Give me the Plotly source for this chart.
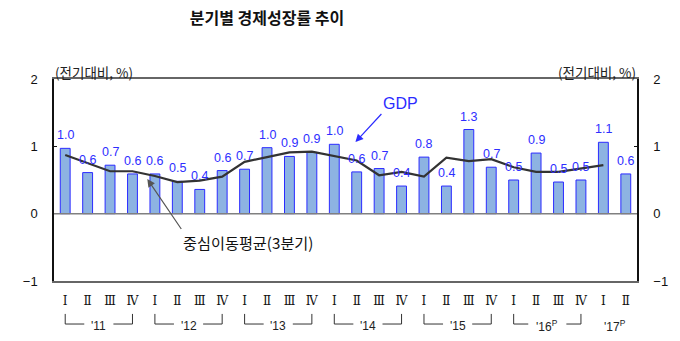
import plotly.graph_objects as go

# ---- data ----
categories = ["11Q1", "11Q2", "11Q3", "11Q4", "12Q1", "12Q2", "12Q3", "12Q4",
              "13Q1", "13Q2", "13Q3", "13Q4", "14Q1", "14Q2", "14Q3", "14Q4",
              "15Q1", "15Q2", "15Q3", "15Q4", "16Q1", "16Q2", "16Q3", "16Q4",
              "17Q1", "17Q2"]
quarter_labels = ["Ⅰ", "Ⅱ", "Ⅲ", "Ⅳ"] * 6 + ["Ⅰ", "Ⅱ"]
gdp = [0.97, 0.61, 0.72, 0.59, 0.59, 0.48, 0.36, 0.64, 0.66, 0.98, 0.85, 0.91, 1.03,
       0.62, 0.67, 0.41, 0.84, 0.41, 1.25, 0.69, 0.50, 0.90, 0.47, 0.50, 1.06, 0.59]
gdp_text = ["1.0", "0.6", "0.7", "0.6", "0.6", "0.5", "0.4", "0.6", "0.7", "1.0", "0.9",
            "0.9", "1.0", "0.6", "0.7", "0.4", "0.8", "0.4", "1.3", "0.7", "0.5", "0.9",
            "0.5", "0.5", "1.1", "0.6"]
moving_avg = [0.87, 0.75, 0.63, 0.63, 0.56, 0.47, 0.49, 0.55, 0.77, 0.84, 0.91, 0.92, 0.85,
              0.79, 0.57, 0.62, 0.55, 0.83, 0.78, 0.81, 0.69, 0.62, 0.62, 0.67, 0.72]
# (label, first quarter index, last quarter index, bracket?)
year_groups = [("'11", 0, 3, True), ("'12", 4, 7, True), ("'13", 8, 11, True),
               ("'14", 12, 15, True), ("'15", 16, 19, True),
               ("'16<sup>P</sup>", 20, 23, True), ("'17<sup>P</sup>", 24, 25, False)]

BAR_FILL = "#8DB3E2"
BAR_LINE = "#2B2BFF"
LABEL_BLUE = "#2E2EFF"
KFONT = "Noto Sans CJK KR"
AFONT = "Liberation Sans, Arial"

fig = go.Figure()
fig.add_trace(go.Bar(
    x=categories, y=gdp, width=0.44,
    marker=dict(color=BAR_FILL, line=dict(color=BAR_LINE, width=1)),
    showlegend=False, hoverinfo="skip"))
fig.add_trace(go.Scatter(
    x=categories[:len(moving_avg)], y=moving_avg, mode="lines", yaxis="y2",
    line=dict(color="#333333", width=2.2), showlegend=False, hoverinfo="skip"))

annotations = []
for c, v, t in zip(categories, gdp, gdp_text):
    annotations.append(dict(x=c, y=v, text=t, showarrow=False, yshift=13,
                            xanchor="center", yanchor="middle",
                            font=dict(family=AFONT, size=12.5, color=LABEL_BLUE)))

shapes = []
for label, i0, i1, bracket in year_groups:
    center = (i0 + i1) / 2
    annotations.append(dict(x=center, y=-0.225, xref="x", yref="paper", text=label,
                            showarrow=False, xanchor="center", yanchor="middle",
                            font=dict(family=AFONT, size=12, color="#222222")))
    if bracket:
        gap = 0.85 if "sup" in label else 0.65
        y_top, y_bot = -0.163, -0.213
        line = dict(color="#333333", width=1)
        shapes.append(dict(type="path", xref="x", yref="paper", line=line,
                           path=f"M {i0},{y_top} L {i0},{y_bot} L {center - gap},{y_bot}"))
        shapes.append(dict(type="path", xref="x", yref="paper", line=line,
                           path=f"M {center + gap},{y_bot} L {i1},{y_bot} L {i1},{y_top}"))

# axis unit labels
annotations.append(dict(x=-0.002, y=1.035, xref="paper", yref="paper", text="(전기대비, %)",
                        showarrow=False, xanchor="left", yanchor="middle",
                        font=dict(family=KFONT, size=13.5, color="#222222")))
annotations.append(dict(x=1.002, y=1.035, xref="paper", yref="paper", text="(전기대비, %)",
                        showarrow=False, xanchor="right", yanchor="middle",
                        font=dict(family=KFONT, size=13.5, color="#222222")))
# GDP callout (arrow head at the bar, text box anchored at arrow tail)
annotations.append(dict(x=0.517, y=0.688, xref="paper", yref="paper", text="GDP",
                        showarrow=True, ax=26, ay=-28, arrowhead=2, arrowsize=1.3,
                        arrowwidth=1.2, arrowcolor="#2B2BFF",
                        xanchor="left", yanchor="bottom",
                        font=dict(family=AFONT, size=16, color="#2B2BFF")))
# moving average callout
annotations.append(dict(x=0.160, y=0.505, xref="paper", yref="paper",
                        text="중심이동평균(3분기)", showarrow=True, ax=34, ay=50,
                        arrowhead=2, arrowsize=1.3, arrowwidth=1.2, arrowcolor="#555555",
                        xanchor="left", yanchor="top",
                        font=dict(family=KFONT, size=15.2, color="#111111")))

yaxis_common = dict(range=[-1, 2], tickvals=[-1, 0, 1, 2], ticktext=["−1", "0", "1", "2"],
                    showgrid=False, zeroline=False, showline=True, linecolor="#111111",
                    linewidth=1.5, ticks="inside", ticklen=3, tickcolor="#111111",
                    tickfont=dict(family=AFONT, size=13, color="#111111"),
                    ticklabelstandoff=12)

fig.update_layout(
    width=680, height=341,
    margin=dict(l=54, r=38, t=79, b=60),
    paper_bgcolor="white", plot_bgcolor="white",
    title=dict(text="<b>분기별 경제성장률 추이</b>", x=267 / 680, y=1 - 18 / 341,
               xanchor="center", yanchor="middle",
               font=dict(family=KFONT, size=16, color="#111111")),
    xaxis=dict(type="category", tickvals=categories, ticktext=quarter_labels,
               range=[-0.5, len(categories) - 0.5], showgrid=False, ticks="",
               showline=True, linecolor="#666666", linewidth=1.5, mirror=True,
               tickfont=dict(family="DejaVu Serif", size=12, color="#111111"),
               ticklabelstandoff=8),
    yaxis=dict(**yaxis_common, side="left"),
    yaxis2=dict(**yaxis_common, side="right", overlaying="y"),
    annotations=annotations,
    shapes=shapes + [dict(type="line", xref="paper", yref="y", x0=0, x1=1, y0=0, y1=0,
                          line=dict(color="#808080", width=1.5), layer="above")],
    bargap=0.5,
)

fig.write_html("out.html")
